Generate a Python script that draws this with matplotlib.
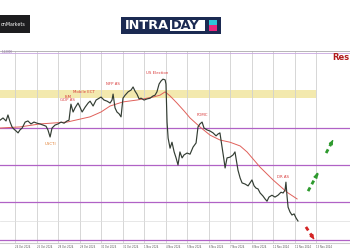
import matplotlib
matplotlib.use("Agg")
import matplotlib.pyplot as plt
from matplotlib.patches import Rectangle

# price trace (day index, price)
days = [-0.70, -0.56, -0.42, -0.33, -0.23, -0.14, -0.05, 0.05, 0.14, 0.23,
        0.33, 0.47, 0.60, 0.74, 0.88, 1.02, 1.16, 1.30, 1.44, 1.53,
        1.63, 1.72, 1.86, 2.00, 2.14, 2.28, 2.42, 2.51, 2.60, 2.70,
        2.79, 2.93, 3.02, 3.12, 3.26, 3.40, 3.49, 3.63, 3.77, 3.91,
        4.00, 4.14, 4.28, 4.42, 4.51, 4.56, 4.65, 4.74, 4.84, 4.93,
        5.02, 5.12, 5.26, 5.40, 5.49, 5.58, 5.67, 5.77, 5.86, 6.00,
        6.14, 6.28, 6.42, 6.51, 6.60, 6.70, 6.79, 6.88, 6.98, 7.02,
        7.07, 7.12, 7.21, 7.30, 7.40, 7.49, 7.58, 7.67, 7.77, 7.86,
        8.00, 8.14, 8.28, 8.42, 8.51, 8.60, 8.70, 8.79, 8.93, 9.07,
        9.21, 9.35, 9.44, 9.53, 9.63, 9.72, 9.77, 9.86, 10.00, 10.14,
        10.23, 10.37, 10.47, 10.56, 10.70, 10.84, 10.93, 11.02, 11.12, 11.21,
        11.30, 11.40, 11.53, 11.63, 11.72, 11.81, 11.95, 12.09, 12.23, 12.37,
        12.47, 12.56, 12.60, 12.65, 12.70, 12.79, 12.88, 12.98, 13.07, 13.16]
price = [1.1020, 1.1026, 1.1018, 1.1034, 1.1015, 1.1002, 1.0996, 1.0991, 1.0986, 1.0994,
         1.0999, 1.1015, 1.1018, 1.1010, 1.1015, 1.1012, 1.1010, 1.1007, 1.1004, 1.0994,
         1.0975, 1.0999, 1.1007, 1.1010, 1.1015, 1.1012, 1.1018, 1.1020, 1.1063, 1.1042,
         1.1053, 1.1066, 1.1055, 1.1042, 1.1055, 1.1066, 1.1071, 1.1058, 1.1074, 1.1079,
         1.1082, 1.1074, 1.1071, 1.1066, 1.1074, 1.1090, 1.1053, 1.1042, 1.1037, 1.1029,
         1.1079, 1.1087, 1.1096, 1.1101, 1.1109, 1.1098, 1.1090, 1.1077, 1.1079, 1.1074,
         1.1077, 1.1079, 1.1085, 1.1087, 1.1096, 1.1117, 1.1125, 1.1130, 1.1128, 1.1117,
         1.1015, 1.0972, 1.0945, 1.0961, 1.0935, 1.0919, 1.0900, 1.0935, 1.0919, 1.0927,
         1.0932, 1.0929, 1.0948, 1.0959, 1.1002, 1.1010, 1.1015, 1.0999, 1.0994, 1.0991,
         1.0986, 1.0978, 1.0983, 1.0986, 1.0948, 1.0913, 1.0892, 1.0919, 1.0921, 1.0927,
         1.0935, 1.0886, 1.0865, 1.0852, 1.0849, 1.0844, 1.0852, 1.0860, 1.0844, 1.0838,
         1.0836, 1.0825, 1.0817, 1.0809, 1.0803, 1.0814, 1.0819, 1.0814, 1.0819, 1.0827,
         1.0825, 1.0833, 1.0854, 1.0817, 1.0787, 1.0774, 1.0766, 1.0769, 1.0758, 1.0750]

ma_days = [-0.70, 0.23, 1.16, 2.42, 3.49, 4.00, 4.42, 5.02, 5.67, 6.42, 6.74, 6.98,
           7.21, 7.53, 7.86, 8.14, 8.60, 9.07, 9.53, 10.00, 10.47, 10.79, 11.40, 12.00,
           12.65, 13.12]
ma_price = [1.0999, 1.1002, 1.1010, 1.1015, 1.1029, 1.1042, 1.1058, 1.1069, 1.1074, 1.1082,
            1.1087, 1.1096, 1.1085, 1.1066, 1.1045, 1.1026, 1.1002, 1.0980, 1.0967, 1.0961,
            1.0951, 1.0935, 1.0894, 1.0860, 1.0827, 1.0809]

levels = [1.1200, 1.1000, 1.0900, 1.0800, 1.0700]
zone = (1.1080, 1.1100)

events = ["ISM", "GDP AS", "Mobile ECT", "NFP AS", "US Election", "FOMC", "DR AS"]
event_days = [2.47, 2.42, 3.21, 4.56, 6.60, 8.70, 12.47]
event_price = [1.1077, 1.1069, 1.1090, 1.1112, 1.1141, 1.1028, 1.0862]

date_labels = ["24 Oct 2024", "25 Oct 2024", "28 Oct 2024", "29 Oct 2024", "30 Oct 2024",
               "31 Oct 2024", "1 Nov 2024", "4 Nov 2024", "5 Nov 2024", "6 Nov 2024",
               "7 Nov 2024", "8 Nov 2024", "11 Nov 2024", "12 Nov 2024", "13 Nov 2024"]

# scenario arrows (start day, start price, end day, end price)
arrows_up = [(13.63, 1.0830, 14.14, 1.0884), (14.47, 1.0932, 14.79, 1.0967)]
arrow_down = (13.53, 1.0734, 13.91, 1.0701)

fig = plt.figure(figsize=(3.5, 2.5), dpi=100)
fig.patch.set_facecolor("white")

# logos
fig.patches.append(Rectangle((0.0, 0.868), 0.086, 0.072, transform=fig.transFigure,
                             facecolor="#1d1d1f", edgecolor="none"))
fig.text(0.003, 0.904, "onMarkets", color="white", fontsize=3.4, va="center")
fig.patches.append(Rectangle((0.346, 0.864), 0.286, 0.068, transform=fig.transFigure,
                             facecolor="#1b2a52", edgecolor="none"))
fig.patches.append(Rectangle((0.486, 0.876), 0.100, 0.044, transform=fig.transFigure,
                             facecolor="white", edgecolor="none"))
fig.text(0.356, 0.898, "INTRA", color="white", fontsize=9.3, fontweight="bold", va="center")
fig.text(0.489, 0.898, "DAY", color="#1b2a52", fontsize=9.3, fontweight="bold", va="center")
fig.patches.append(Rectangle((0.596, 0.900), 0.024, 0.020, transform=fig.transFigure,
                             facecolor="#2cc6d8", edgecolor="none"))
fig.patches.append(Rectangle((0.596, 0.876), 0.024, 0.022, transform=fig.transFigure,
                             facecolor="#e8277c", edgecolor="none"))

ax = fig.add_axes([0.0, 0.028, 1.0, 0.768])
ax.set_xlim(-0.70, 15.58)
ax.set_ylim(1.0691, 1.12054)

ax.set_xticks(range(15))
ax.set_xticklabels(date_labels, fontsize=1.8, color="#555555", ha="left")
ax.set_yticks([])
ax.tick_params(axis="x", length=0, pad=1.2)
ax.grid(axis="x", color="#d0d0d0", lw=0.6)
ax.axhline(1.0750, color="#dddddd", lw=0.5)
for s in ["left", "right"]:
    ax.spines[s].set_visible(False)
ax.spines["top"].set_color("#aaaaaa")
ax.spines["bottom"].set_color("#cccccc")
ax.spines["top"].set_linewidth(0.6)

ax.axhspan(zone[0], zone[1], xmin=0, xmax=(14.0 + 0.70) / 16.28, color="#f1e6a0", alpha=0.85, lw=0)
for i, lv in enumerate(levels):
    ax.axhline(lv, color="#c9a6df" if i == 0 else "#b062c6", lw=0.6 if i == 0 else 0.9)

ax.plot(ma_days, ma_price, color="#e0605a", lw=0.7)
ax.plot(days, price, color="#333d33", lw=0.85)

for name, d, p in zip(events, event_days, event_price):
    ax.text(d, p, name, color="#d83a3a", fontsize=2.8, ha="center", va="bottom")
ax.text(1.63, 1.0961, "USCTI", color="#e07a2a", fontsize=2.8, ha="center", va="top")
ax.text(15.55, 1.1187, "Res", color="#b01c1c", fontsize=6, fontweight="bold",
        ha="right", va="center")
ax.text(-0.62, 1.1203, "1.12000", color="#8a6aa0", fontsize=2.0, va="center")

for x0, y0, x1, y1 in arrows_up:
    ax.plot([x0, x1], [y0, y1], color="#2e9a2e", lw=2.0, ls=(0, (1.5, 1.3)))
    ax.annotate("", xy=(x1, y1), xytext=(x0 + 0.75 * (x1 - x0), y0 + 0.75 * (y1 - y0)),
                arrowprops=dict(arrowstyle="-|>", color="#2e9a2e", lw=1.2, mutation_scale=5))
x0, y0, x1, y1 = arrow_down
ax.plot([x0, x1], [y0, y1], color="#d42424", lw=2.0, ls=(0, (1.5, 1.3)))
ax.annotate("", xy=(x1, y1), xytext=(x0 + 0.75 * (x1 - x0), y0 + 0.75 * (y1 - y0)),
            arrowprops=dict(arrowstyle="-|>", color="#d42424", lw=1.2, mutation_scale=5))

fig.savefig("out.png", dpi=100)
